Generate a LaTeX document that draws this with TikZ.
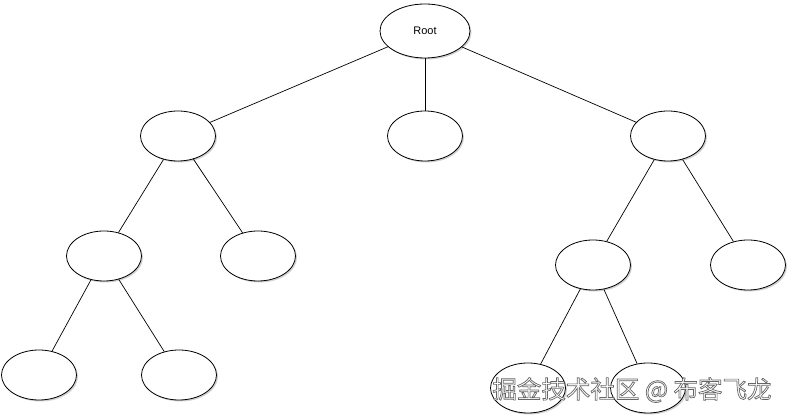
\documentclass[tikz,border=0pt]{standalone}
\usepackage{fontspec}
\setmainfont{Liberation Sans}
\newfontfamily\cjkfont{Noto Sans CJK SC}
\usetikzlibrary{shapes.geometric,shadows}
\newcommand{\outlinedtext}[1]{\special{pdf:literal 2 Tr 0.7 w 0.4 0.4 0.4 RG}#1\special{pdf:literal 0 Tr}}
\begin{document}
\begin{tikzpicture}[x=1pt,y=-1pt,
  tnode/.style={ellipse,draw=black,line width=0.8pt,fill=white,minimum width=75pt,minimum height=50pt,inner sep=0pt,
    drop shadow={shadow xshift=1.5pt,shadow yshift=-1.5pt,fill=black!30,opacity=0.6}},
  rootnode/.style={tnode,minimum width=90pt,minimum height=54pt,font=\fontsize{11}{13}\selectfont},
  edge/.style={draw=black,line width=0.7pt},
  wm/.style={font=\cjkfont\fontsize{24.5}{28}\selectfont,text=white}]
\useasboundingbox (0,0) rectangle (788,419);
\node[rootnode] (root) at (425,31) {Root};
\node[tnode] (l1) at (178,136) {};
\node[tnode] (m1) at (425,136) {};
\node[tnode] (r1) at (668,136) {};
\node[tnode] (ll) at (104,256) {};
\node[tnode] (lr) at (258,256) {};
\node[tnode] (rl) at (593,265) {};
\node[tnode] (rr) at (748,265) {};
\node[tnode] (lll) at (39,375) {};
\node[tnode] (llr) at (179,375) {};
\node[tnode] (rll) at (528,388) {};
\node[tnode] (rlr) at (648,388) {};
\draw[edge] (root) -- (l1);
\draw[edge] (root) -- (m1);
\draw[edge] (root) -- (r1);
\draw[edge] (l1) -- (ll);
\draw[edge] (l1) -- (lr);
\draw[edge] (r1) -- (rl);
\draw[edge] (r1) -- (rr);
\draw[edge] (ll) -- (lll);
\draw[edge] (ll) -- (llr);
\draw[edge] (rl) -- (rll);
\draw[edge] (rl) -- (rlr);
\node[wm] (wmark) at (632,390) {\outlinedtext{掘金技术社区 @ 布客飞龙}};
\end{tikzpicture}
\end{document}
